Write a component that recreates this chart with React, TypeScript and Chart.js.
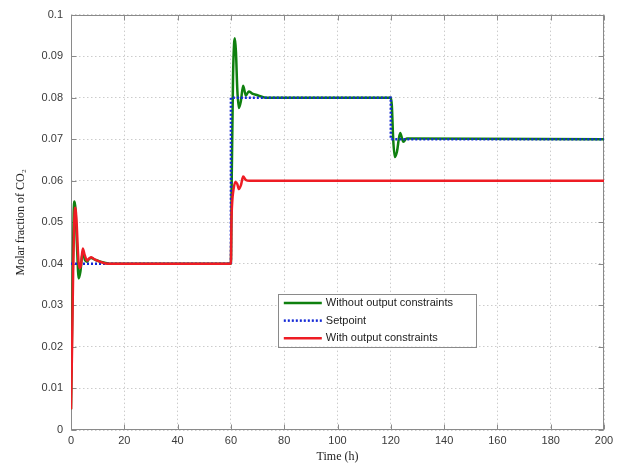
import React, { useEffect, useRef } from 'react';
import { Chart, registerables } from 'chart.js';

Chart.register(...registerables);

// ---- data (time in h, molar fraction of CO2) ----
const timeWithout = [0, 0.3, 0.7, 1.0, 1.3, 1.7, 2.2, 2.9, 3.5, 4.4, 5.2, 6.0, 6.8, 7.6, 9, 11, 13, 15, 60, 60.3, 60.8, 61.2, 61.5, 61.9, 62.4, 63.0, 63.7, 64.6, 65.6, 66.7, 68, 70, 73, 120, 120.4, 120.9, 121.5, 122.3, 123.5, 124.7, 126, 200];
const molarWithout = [0.005, 0.02, 0.04, 0.052, 0.055, 0.053, 0.045, 0.0365, 0.038, 0.043, 0.041, 0.0405, 0.0412, 0.0414, 0.041, 0.0405, 0.0402, 0.04, 0.04, 0.06, 0.085, 0.093, 0.0943, 0.091, 0.082, 0.0775, 0.079, 0.0829, 0.0805, 0.0815, 0.081, 0.0806, 0.08, 0.08, 0.078, 0.07, 0.0657, 0.067, 0.0715, 0.0694, 0.0702, 0.07];

const timeSetpoint = [0, 60, 60, 120, 120, 200];
const molarSetpoint = [0.04, 0.04, 0.08, 0.08, 0.07, 0.07];

const timeWith = [0, 0.4, 0.8, 1.2, 1.6, 2.1, 2.6, 3.1, 3.7, 4.4, 5.2, 6.0, 6.8, 7.6, 9, 11, 13, 15, 60, 60.2, 60.5, 61, 61.7, 62.4, 63.0, 63.8, 64.6, 65.6, 67, 200];
const molarWith = [0.005, 0.02, 0.038, 0.05, 0.0535, 0.05, 0.043, 0.039, 0.0395, 0.0437, 0.042, 0.0408, 0.0413, 0.0416, 0.041, 0.0405, 0.0401, 0.04, 0.04, 0.05, 0.055, 0.058, 0.0597, 0.0592, 0.058, 0.059, 0.061, 0.0602, 0.06, 0.06];

const seriesLabels = ['Without output constraints', 'Setpoint', 'With output constraints'];
const xAxisTitle = 'Time (h)';
const yAxisTitle = 'Molar fraction of CO\u2082';

const toPoints = (xs: number[], ys: number[]) => xs.map((x, i) => ({ x, y: ys[i] }));

const FRAME = '#8a8a8a';

const framePlugin = {
  id: 'matlabFrame',
  beforeDatasetsDraw(chart: any) {
    const { ctx, chartArea: a, scales } = chart;
    ctx.save();
    ctx.strokeStyle = FRAME;
    ctx.lineWidth = 1;
    ctx.setLineDash([]);
    const l = Math.round(a.left) + 0.5, r = Math.round(a.right) - 0.5;
    const t = Math.round(a.top) + 0.5, b = Math.round(a.bottom) - 0.5;
    ctx.strokeRect(l, t, r - l, b - t);
    const len = 5;
    ctx.beginPath();
    scales.x.ticks.forEach((tk: any) => {
      const px = Math.round(scales.x.getPixelForValue(tk.value)) + 0.5;
      ctx.moveTo(px, b); ctx.lineTo(px, b - len);
      ctx.moveTo(px, t); ctx.lineTo(px, t + len);
    });
    scales.y.ticks.forEach((tk: any) => {
      const py = Math.round(scales.y.getPixelForValue(tk.value)) + 0.5;
      ctx.moveTo(l, py); ctx.lineTo(l + len, py);
      ctx.moveTo(r, py); ctx.lineTo(r - len, py);
    });
    ctx.stroke();
    ctx.restore();
  },
  afterDatasetsDraw(chart: any) {
    const { ctx, chartArea: a } = chart;
    const w = a.right - a.left, h = a.bottom - a.top;
    const bx = a.left + 0.388 * w, by = a.top + 0.672 * h;
    const bw = 0.372 * w, bh = 0.127 * h;
    ctx.save();
    ctx.fillStyle = '#ffffff';
    ctx.fillRect(bx, by, bw, bh);
    ctx.strokeStyle = FRAME;
    ctx.lineWidth = 1;
    ctx.strokeRect(Math.round(bx) + 0.5, Math.round(by) + 0.5, Math.round(bw), Math.round(bh));
    ctx.font = '11px "Liberation Sans", Arial, sans-serif';
    ctx.textBaseline = 'middle';
    ctx.fillStyle = '#222';
    const rowH = bh / 3;
    chart.data.datasets.forEach((ds: any, i: number) => {
      const cy = by + rowH * (i + 0.5) + 0.5;
      ctx.beginPath();
      ctx.strokeStyle = ds.borderColor;
      ctx.lineWidth = ds.borderWidth;
      ctx.setLineDash(ds.borderDash || []);
      ctx.moveTo(bx + 6, cy);
      ctx.lineTo(bx + 44, cy);
      ctx.stroke();
      ctx.setLineDash([]);
      ctx.fillText(ds.label, bx + 48, cy);
    });
    ctx.restore();
  },
};

export default function App() {
  const ref = useRef<HTMLCanvasElement | null>(null);
  useEffect(() => {
    if (!ref.current) return;
    const chart = new Chart(ref.current, {
      type: 'line',
      data: {
        datasets: [
          {
            label: seriesLabels[0],
            data: toPoints(timeWithout, molarWithout),
            borderColor: '#0f800f',
            borderWidth: 2.5,
            pointRadius: 0,
            cubicInterpolationMode: 'monotone',
            order: 3,
          },
          {
            label: seriesLabels[1],
            data: toPoints(timeSetpoint, molarSetpoint),
            borderColor: '#1328d6',
            borderWidth: 2.5,
            borderDash: [2, 2],
            pointRadius: 0,
            tension: 0,
            order: 2,
          },
          {
            label: seriesLabels[2],
            data: toPoints(timeWith, molarWith),
            borderColor: '#ee1c24',
            borderWidth: 2.5,
            pointRadius: 0,
            cubicInterpolationMode: 'monotone',
            order: 1,
          },
        ],
      },
      options: {
        responsive: false,
        animation: false,
        layout: { padding: { left: 0, top: 12, right: 19, bottom: 0 } },
        plugins: { legend: { display: false }, tooltip: { enabled: false } },
        scales: {
          x: {
            type: 'linear',
            min: 0,
            max: 200,
            afterFit: (s: any) => { s.height = 36; },
            ticks: {
              stepSize: 20,
              padding: 4,
              color: '#3a3a3a',
              font: { family: '"Liberation Sans", Arial, sans-serif', size: 11 },
            },
            grid: { color: '#cccccc', drawTicks: false, lineWidth: 1 },
            border: { display: false, dash: [1.5, 2.5] },
            title: {
              display: true,
              text: xAxisTitle,
              color: '#222',
              font: { family: '"Liberation Serif", "Times New Roman", serif', size: 12 },
              padding: { top: 0, bottom: 2 },
            },
          },
          y: {
            type: 'linear',
            min: 0,
            max: 0.1,
            afterFit: (s: any) => { s.width = 71; },
            ticks: {
              stepSize: 0.01,
              padding: 8,
              color: '#3a3a3a',
              font: { family: '"Liberation Sans", Arial, sans-serif', size: 11 },
              callback: (v: any) => String(Number(Number(v).toFixed(2))),
            },
            grid: { color: '#cccccc', drawTicks: false, lineWidth: 1 },
            border: { display: false, dash: [1.5, 2.5] },
            title: {
              display: true,
              text: yAxisTitle,
              color: '#222',
              font: { family: '"Liberation Serif", "Times New Roman", serif', size: 12 },
              padding: { top: 14, bottom: 0 },
            },
          },
        },
      },
      plugins: [framePlugin],
    });
    return () => chart.destroy();
  }, []);
  return (
    <div style={{ position: 'absolute', left: 0, top: 0, width: 623, height: 466, background: '#fff' }}>
      <canvas ref={ref} width={623} height={466} />
    </div>
  );
}
